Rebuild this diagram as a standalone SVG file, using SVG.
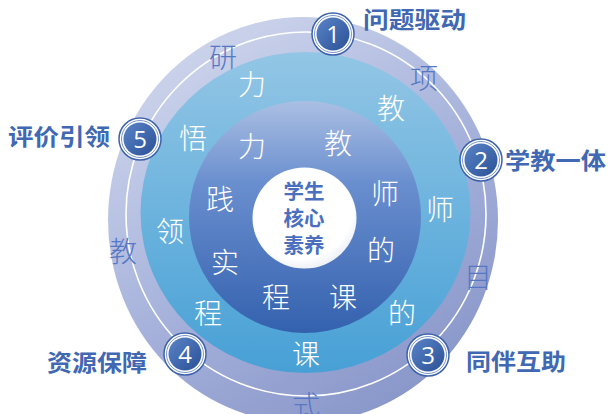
<svg xmlns="http://www.w3.org/2000/svg" width="609" height="414" viewBox="0 0 609 414">
  <defs>
    <linearGradient id="gOuter" x1="0.2" y1="0" x2="0.8" y2="1">
      <stop offset="0" stop-color="#d0d7ed"/>
      <stop offset="0.55" stop-color="#a4b0da"/>
      <stop offset="1" stop-color="#8593c7"/>
    </linearGradient>
    <linearGradient id="gMid" x1="0" y1="0" x2="0" y2="1">
      <stop offset="0" stop-color="#93c6e5"/>
      <stop offset="0.5" stop-color="#6cb3de"/>
      <stop offset="1" stop-color="#47a0d5"/>
    </linearGradient>
    <linearGradient id="gInner" x1="0" y1="0" x2="0" y2="1">
      <stop offset="0" stop-color="#abbfe3"/>
      <stop offset="0.35" stop-color="#6a8fcf"/>
      <stop offset="1" stop-color="#3461ae"/>
    </linearGradient>
    <radialGradient id="gCore" cx="0.45" cy="0.4" r="0.6">
      <stop offset="0" stop-color="#ffffff"/>
      <stop offset="0.85" stop-color="#ffffff"/>
      <stop offset="1" stop-color="#eef1f8"/>
    </radialGradient>
    <linearGradient id="gBadge" x1="0" y1="0" x2="1" y2="1">
      <stop offset="0" stop-color="#5a84c8"/>
      <stop offset="1" stop-color="#2b5096"/>
    </linearGradient>
  </defs>
  <style>
    .ring-out { font-family: "Noto Sans CJK SC", "Noto Sans", sans-serif; font-size: 28px; font-weight: 300; fill: #5577c4; text-anchor: middle; }
    .ring-w { font-family: "Noto Sans CJK SC", "Noto Sans", sans-serif; font-size: 28px; font-weight: 300; fill: #ffffff; text-anchor: middle; }
    .core { font-family: "Noto Sans CJK SC", "Noto Sans", sans-serif; font-size: 20.5px; font-weight: 700; fill: #4a6fbe; text-anchor: middle; }
    .label { font-family: "Noto Sans CJK SC", "Noto Sans", sans-serif; font-size: 23px; font-weight: 700; fill: #4168b2; }
    .b-outer { fill: #ffffff; stroke: #3d63aa; stroke-width: 1.5; }
    .b-mid { fill: none; stroke: #7d98cc; stroke-width: 1; }
    .b-fill { fill: url(#gBadge); }
    .num { font-family: "Open Sans", "Liberation Sans", sans-serif; font-size: 24px; fill: #ffffff; text-anchor: middle; }
  </style>

  <rect width="609" height="414" fill="#ffffff"/>

  <g id="outer-ring">
    <ellipse cx="303" cy="220" rx="195" ry="203" fill="url(#gOuter)"/>
    <ellipse cx="306" cy="214" rx="180" ry="182" fill="none" stroke="#ffffff" stroke-width="1.6"/>
    <text class="ring-out" x="223" y="68">研</text>
    <text class="ring-out" x="424" y="89">项</text>
    <text class="ring-out" x="478" y="288">目</text>
    <text class="ring-out" x="306" y="416">式</text>
    <text class="ring-out" x="123" y="262">教</text>
  </g>

  <g id="middle-ring">
    <ellipse cx="305.5" cy="212.5" rx="165" ry="160.5" fill="url(#gMid)"/>
    <text class="ring-w" x="252" y="95">力</text>
    <text class="ring-w" x="391" y="119">教</text>
    <text class="ring-w" x="440" y="220">师</text>
    <text class="ring-w" x="402" y="324">的</text>
    <text class="ring-w" x="306" y="365">课</text>
    <text class="ring-w" x="208" y="324">程</text>
    <text class="ring-w" x="170" y="242">领</text>
    <text class="ring-w" x="193" y="149">悟</text>
  </g>

  <g id="inner-ring">
    <circle cx="305" cy="217" r="116" fill="url(#gInner)"/>
    <text class="ring-w" x="252" y="157">力</text>
    <text class="ring-w" x="338" y="154">教</text>
    <text class="ring-w" x="385" y="204">师</text>
    <text class="ring-w" x="381" y="261">的</text>
    <text class="ring-w" x="343" y="308">课</text>
    <text class="ring-w" x="276" y="308">程</text>
    <text class="ring-w" x="225" y="273">实</text>
    <text class="ring-w" x="220" y="210">践</text>
  </g>

  <g id="core">
    <ellipse cx="304.5" cy="218" rx="52" ry="50.5" fill="url(#gCore)"/>
    <text class="core" x="304" y="199">学生</text>
    <text class="core" x="304" y="226">核心</text>
    <text class="core" x="304" y="253">素养</text>
  </g>

  <g id="connectors"/>

  <g id="badge-1">
    <circle class="b-outer" cx="333" cy="34" r="21"/>
    <circle class="b-mid" cx="333" cy="34" r="18.5"/>
    <circle class="b-fill" cx="333" cy="34" r="16.5"/>
    <text class="num" x="333" y="42.5">1</text>
    <text class="label" x="363" y="28" textLength="103" lengthAdjust="spacingAndGlyphs">问题驱动</text>
  </g>
  <g id="badge-2">
    <circle class="b-outer" cx="481" cy="160" r="21"/>
    <circle class="b-mid" cx="481" cy="160" r="18.5"/>
    <circle class="b-fill" cx="481" cy="160" r="16.5"/>
    <text class="num" x="481" y="168.5">2</text>
    <text class="label" x="505" y="169" textLength="101" lengthAdjust="spacingAndGlyphs">学教一体</text>
  </g>
  <g id="badge-3">
    <circle class="b-outer" cx="428" cy="355" r="21"/>
    <circle class="b-mid" cx="428" cy="355" r="18.5"/>
    <circle class="b-fill" cx="428" cy="355" r="16.5"/>
    <text class="num" x="428" y="363.5">3</text>
    <text class="label" x="466" y="370" textLength="100" lengthAdjust="spacingAndGlyphs">同伴互助</text>
  </g>
  <g id="badge-4">
    <circle class="b-outer" cx="185" cy="354" r="21"/>
    <circle class="b-mid" cx="185" cy="354" r="18.5"/>
    <circle class="b-fill" cx="185" cy="354" r="16.5"/>
    <text class="num" x="185" y="362.5">4</text>
    <text class="label" x="47" y="371" textLength="100" lengthAdjust="spacingAndGlyphs">资源保障</text>
  </g>
  <g id="badge-5">
    <circle class="b-outer" cx="140" cy="139" r="21"/>
    <circle class="b-mid" cx="140" cy="139" r="18.5"/>
    <circle class="b-fill" cx="140" cy="139" r="16.5"/>
    <text class="num" x="140" y="147.5">5</text>
    <text class="label" x="8" y="145" textLength="102" lengthAdjust="spacingAndGlyphs">评价引领</text>
  </g>
</svg>
